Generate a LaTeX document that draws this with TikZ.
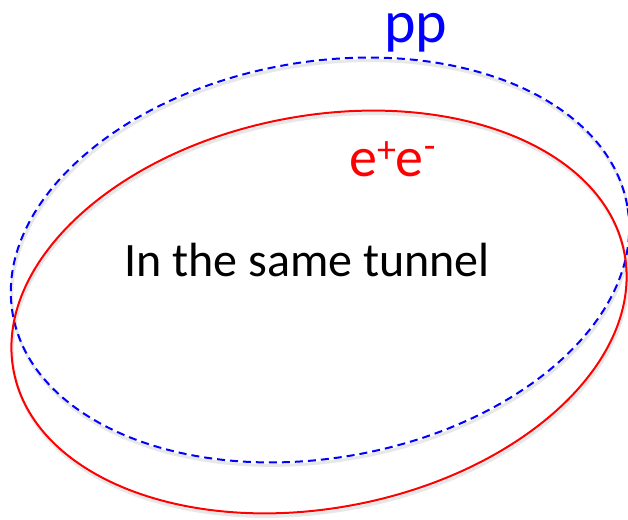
\documentclass[tikz,border=0pt]{standalone}
\usepackage{fontspec}
\setmainfont{Carlito}
\begin{document}
\begin{tikzpicture}[x=1pt,y=1pt,
  ringred/.style={draw=red, line width=2pt},
  ringblue/.style={draw=blue, line width=2pt, dash pattern=on 8pt off 5pt},
  ringshadow/.style={draw=black!25, line width=3pt, opacity=0.35},
  lbl/.style={inner sep=0pt, anchor=base west}]
\useasboundingbox (0,0) rectangle (628,519);
\fill[white] (0,0) rectangle (628,519);
% shadows
\draw[ringshadow] (321,256) ellipse [x radius=312, y radius=198, rotate=10];
\draw[ringshadow] (320,204) ellipse [x radius=311, y radius=196, rotate=11];
% blue pp ring
\draw[ringblue] (320,259) ellipse [x radius=312, y radius=198, rotate=10];
% red e+e- ring
\draw[ringred] (319,207) ellipse [x radius=311, y radius=196, rotate=11];
\node[lbl, text=blue, text height=32pt, text depth=12pt] (pp) at (384,476) {\fontsize{60}{62}\selectfont pp};
\node[lbl, text=red] (ee) at (349,342) {\fontsize{56}{60}\selectfont e\raisebox{14pt}{\fontsize{38}{40}\selectfont +}e\raisebox{18pt}{\fontsize{38}{40}\selectfont -}};
\node[lbl] (tunnel) at (124,242) {\fontsize{48}{52}\selectfont In the same tunnel};
\end{tikzpicture}
\end{document}
